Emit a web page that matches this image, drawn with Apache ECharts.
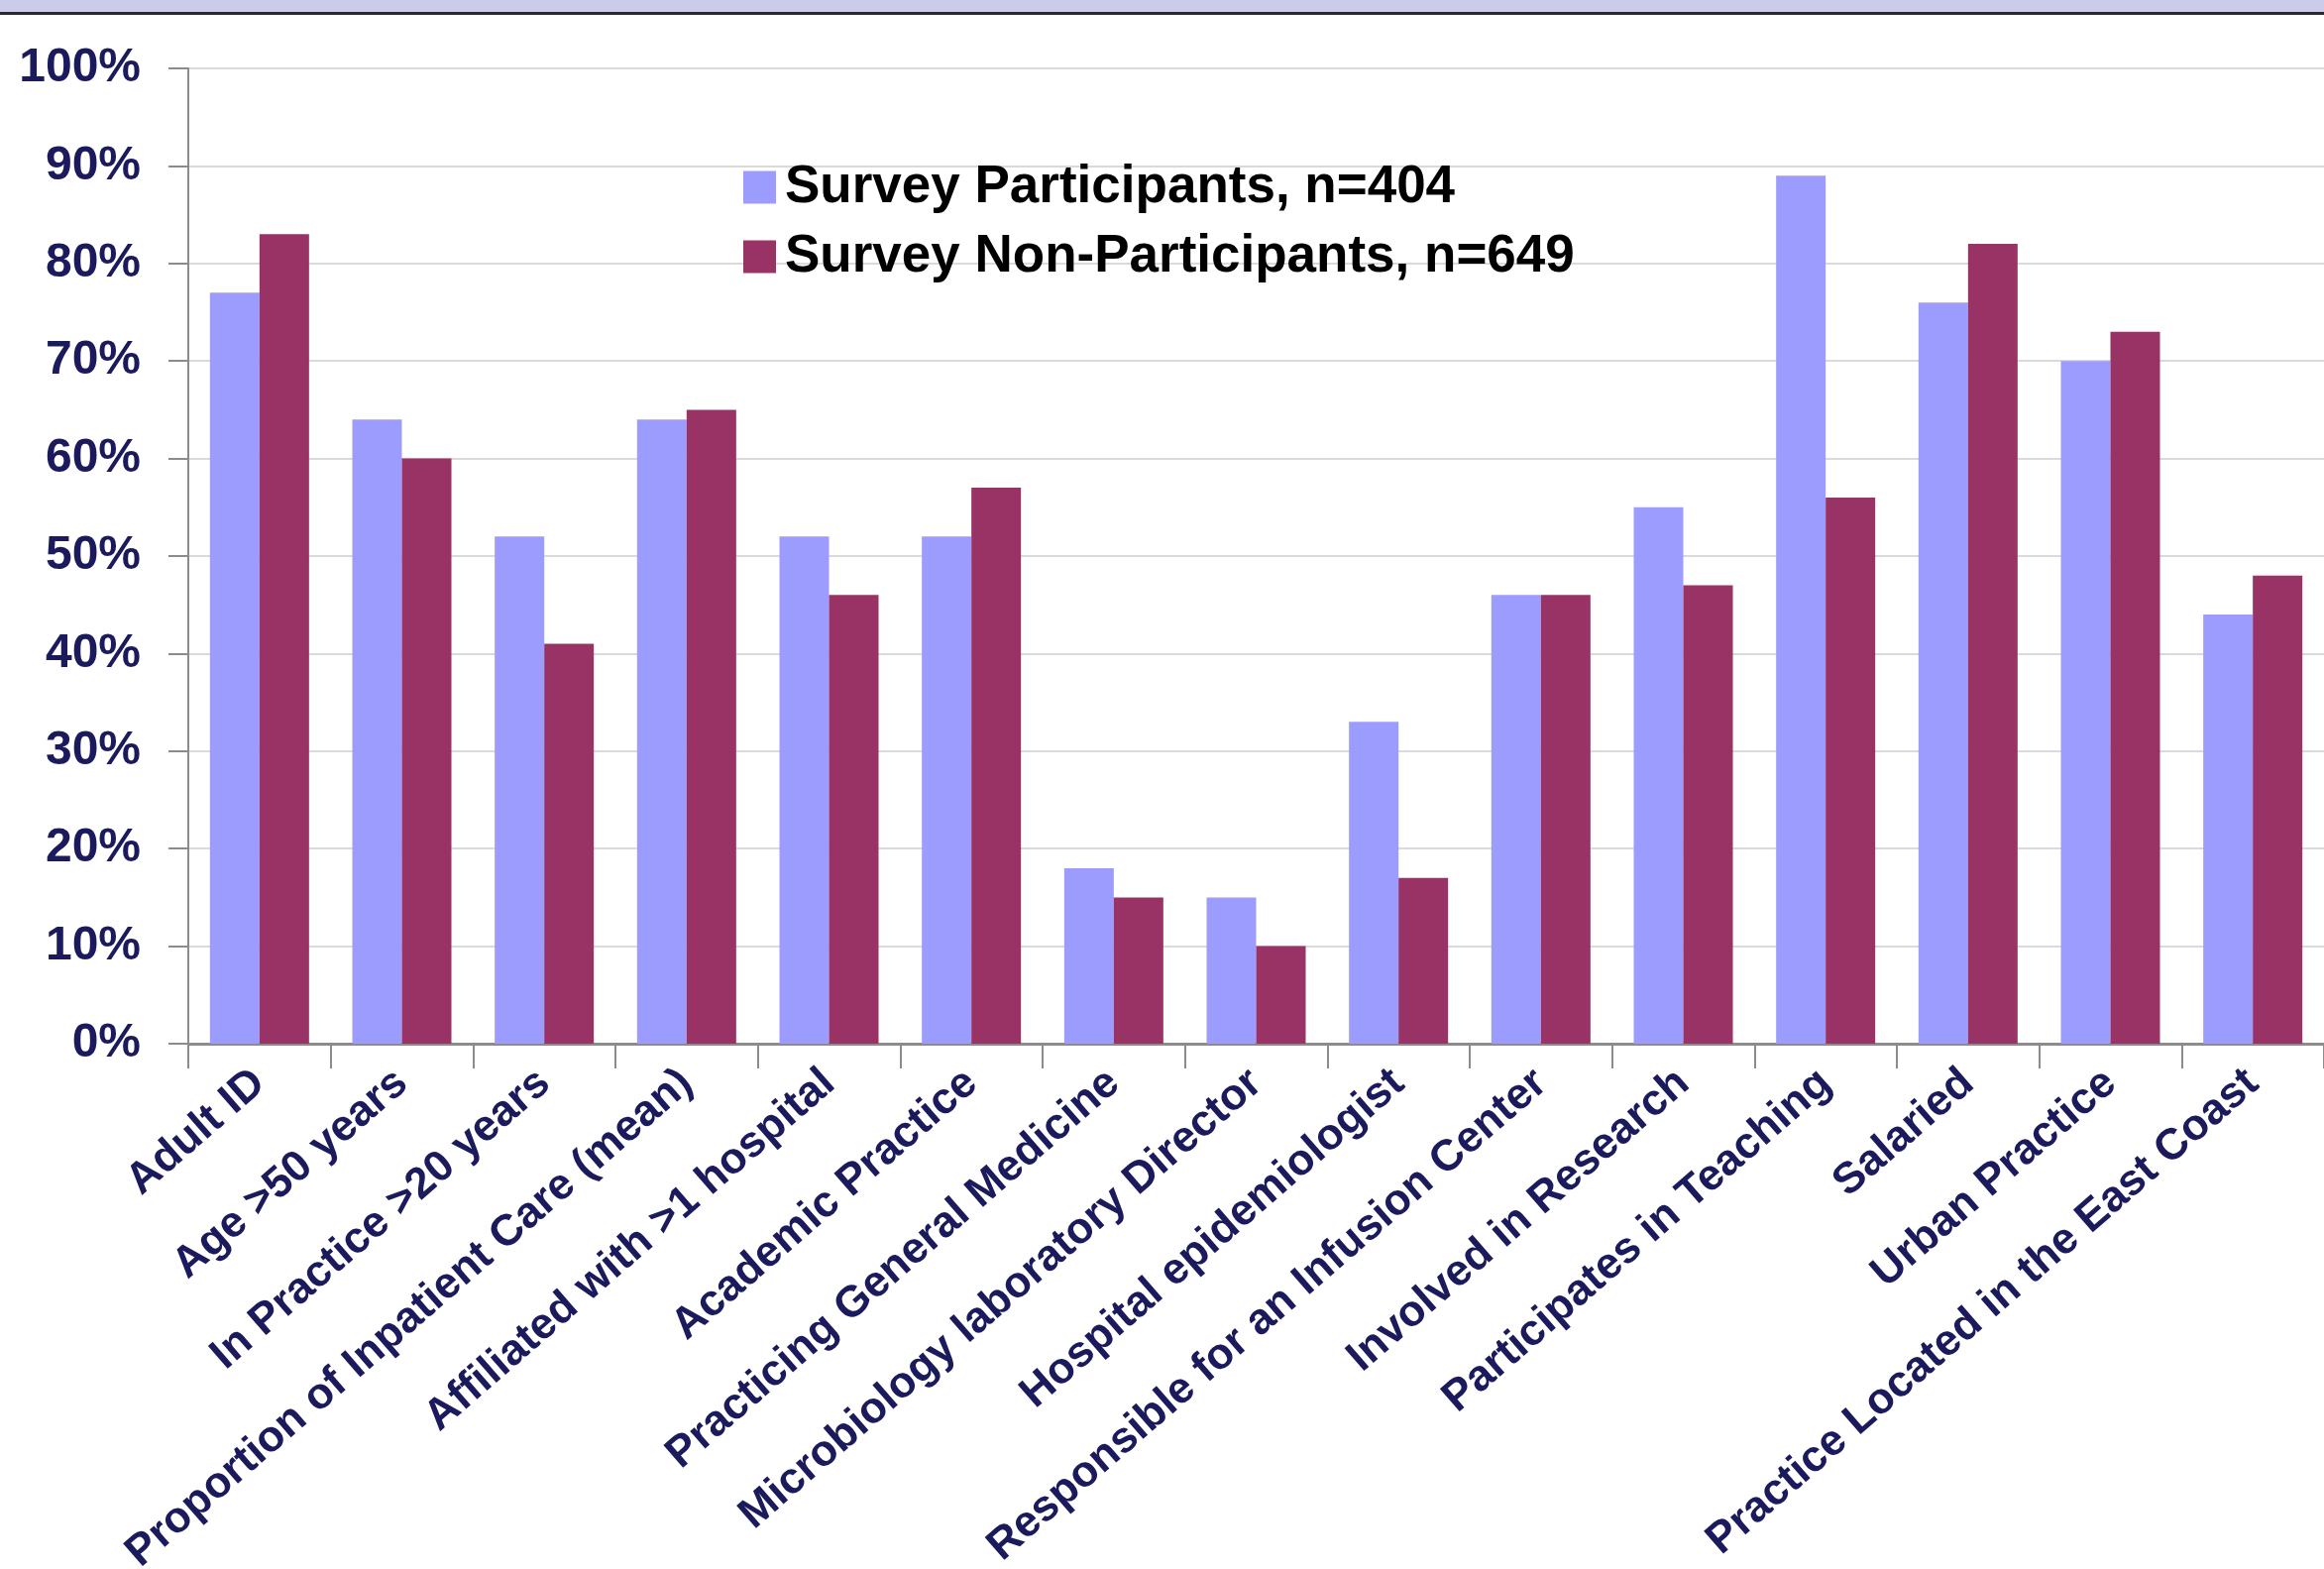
<!DOCTYPE html>
<html>
<head>
<meta charset="utf-8">
<script src="https://cdn.jsdelivr.net/npm/echarts@6/dist/echarts.min.js"></script>
<style>
  html, body { margin: 0; padding: 0; background: #fff; }
  #chart { width: 2345px; height: 1583px; }
</style>
</head>
<body>
<div id="chart"></div>
<script>
// categories along the x axis
var categories = [
  'Adult ID',
  'Age >50 years',
  'In Practice >20 years',
  'Proportion of Inpatient Care (mean)',
  'Affiliated with >1 hospital',
  'Academic Practice',
  'Practicing General Medicine',
  'Microbiology laboratory Director',
  'Hospital epidemiologist',
  'Responsible for an Infusion Center',
  'Involved in Research',
  'Participates in Teaching',
  'Salaried',
  'Urban Practice',
  'Practice Located in the East Coast'
]
var seriesNames = ['Survey Participants, n=404', 'Survey Non-Participants, n=649']
var participants = [77, 64, 52, 64, 52, 52, 18, 15, 33, 46, 55, 89, 76, 70, 44]
var nonParticipants = [83, 60, 41, 65, 46, 57, 15, 10, 17, 46, 47, 56, 82, 73, 48]
var yTicks = [0, 10, 20, 30, 40, 50, 60, 70, 80, 90, 100]

var navy = '#1b1a5c'
var chart = echarts.init(document.getElementById('chart'))
var option = {
  animation: false,
  backgroundColor: '#ffffff',
  color: ['#9c9cff', '#993366'],
  // top band of the slide
  graphic: [
    { type: 'rect', shape: { x: 0, y: 0, width: 2345, height: 13 }, style: { fill: '#cccce8' } },
    { type: 'rect', shape: { x: 0, y: 12, width: 2345, height: 3 }, style: { fill: '#2a2a2a' } }
  ],
  legend: {
    orient: 'vertical',
    left: 745,
    top: 152,
    itemWidth: 33,
    itemHeight: 33,
    itemGap: 6,
    icon: 'rect',
    textStyle: {
      fontFamily: 'Liberation Sans Narrow, Liberation Sans, Arial, sans-serif',
      fontWeight: 'bold',
      fontSize: 53,
      lineHeight: 64,
      color: '#000',
      padding: [0, 0, 0, 4]
    },
    data: seriesNames
  },
  grid: {
    left: 190,
    right: 0,
    top: 69,
    bottom: 530,
    containLabel: false,
    outerBoundsMode: 'none'
  },
  xAxis: {
    type: 'category',
    data: categories,
    axisLine: { lineStyle: { color: '#8c8c8c', width: 3 } },
    axisTick: { show: true, length: 25, lineStyle: { color: '#8c8c8c', width: 2 } },
    axisLabel: {
      rotate: 41,
      interval: 0,
      margin: 34,
      color: navy,
      fontFamily: 'Liberation Sans, Arial, sans-serif',
      fontWeight: 'bold',
      fontSize: 44
    }
  },
  yAxis: {
    type: 'value',
    min: 0,
    max: 100,
    interval: 10,
    axisLine: { show: true, lineStyle: { color: '#8c8c8c', width: 2 } },
    axisTick: { show: true, inside: false, length: 20, lineStyle: { color: '#8c8c8c', width: 2 } },
    splitLine: { lineStyle: { color: '#dadada', width: 2 } },
    axisLabel: {
      margin: 48,
      color: navy,
      fontFamily: 'Liberation Sans Narrow, Liberation Sans, Arial, sans-serif',
      fontWeight: 'bold',
      fontSize: 48,
      formatter: function (v) {
        return yTicks.indexOf(v) >= 0 ? v + '%' : ''
      }
    }
  },
  series: [
    {
      name: seriesNames[0],
      type: 'bar',
      barWidth: 50,
      barGap: '0%',
      data: participants
    },
    {
      name: seriesNames[1],
      type: 'bar',
      barWidth: 50,
      barGap: '0%',
      data: nonParticipants
    }
  ]
}
chart.setOption(option)
</script>
</body>
</html>
